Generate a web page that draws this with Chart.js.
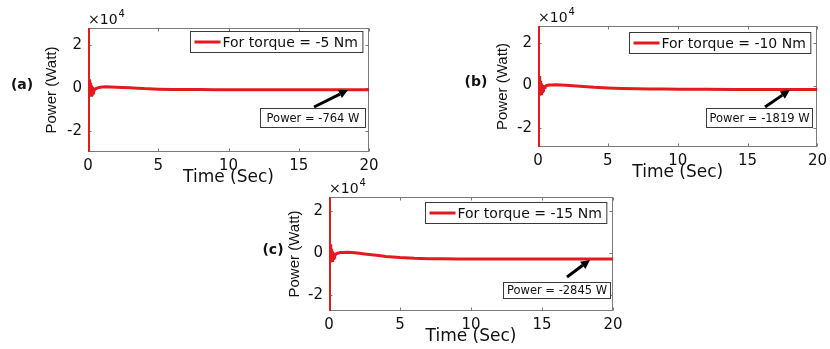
<!DOCTYPE html>
<html><head><meta charset="utf-8">
<script src="https://cdn.jsdelivr.net/npm/chart.js@4.4.1/dist/chart.umd.min.js"></script>
<style>
html,body{margin:0;padding:0;background:#fff;}
body{width:830px;height:349px;position:relative;overflow:hidden;}
canvas{position:absolute;}
</style></head><body>
<canvas id="cA" width="400" height="192" style="left:0;top:0;width:400px;height:192px"></canvas>
<canvas id="cB" width="392" height="192" style="left:440px;top:0;width:392px;height:192px"></canvas>
<canvas id="cC" width="400" height="179" style="left:230px;top:170px;width:400px;height:179px"></canvas>
<script>
// ---------- data ----------
const timeSec = [0, 0.01, 0.02, 0.03, 0.04, 0.05, 0.06, 0.08, 0.10, 0.12, 0.14, 0.16, 0.18, 0.20, 0.22, 0.24, 0.26, 0.28, 0.30, 0.33, 0.36, 0.40, 0.45, 0.50, 0.60, 0.70, 0.80, 1.0, 1.3, 1.6, 2.0, 2.5, 3.0, 3.5, 4.0, 5.0, 6.0, 7.0, 8.0, 9.0, 10.0, 12.0, 14.0, 16.0, 18.0, 20.0];
const powerA = [0, 27700, -29500, 15000, -12000, 5000, -4000, 4000, -4000, 3200, -3800, 2400, -3600, 1700, -3300, 1200, -3000, 800, -2700, 400, -2200, -1700, -1000, -500, -200, 100, 300, 500, 550, 500, 400, 250, 100, -50, -250, -500, -620, -690, -720, -740, -750, -758, -762, -764, -764, -764];
const powerB = [0, 27900, -28800, 16000, -14000, 6500, -5000, 4500, -4800, 3200, -4500, 2200, -4200, 1400, -3800, 900, -3300, 500, -2800, 200, -2200, -1500, -900, -500, -100, 100, 200, 300, 350, 300, 150, -100, -350, -600, -850, -1150, -1350, -1500, -1600, -1680, -1730, -1780, -1800, -1812, -1818, -1819];
const powerC = [0, 26700, -27600, 15000, -13000, 6000, -5000, 4200, -4500, 3000, -4300, 2000, -4000, 1200, -3600, 800, -3100, 400, -2600, 100, -2000, -1400, -800, -400, -100, 100, 250, 300, 350, 250, 0, -400, -800, -1200, -1600, -2150, -2500, -2680, -2760, -2800, -2820, -2835, -2840, -2843, -2845, -2845];
const xTickValues = [0, 5, 10, 15, 20];
const yTickValues = [-20000, 0, 20000];
const panelLabels = ['(a)', '(b)', '(c)'];
const torqueLabels = ['For torque = -5 Nm', 'For torque = -10 Nm', 'For torque = -15 Nm'];
const powerNotes = ['Power = -764 W', 'Power = -1819 W', 'Power = -2845 W'];
const yLimits = [[-29500, 27700], [-28800, 27900], [-27600, 26700]];

// ---------- layout / annotation config ----------
const panels = [
  {id:'cA', series:powerA, pad:{left:43, top:28, right:31, bottom:4}, yWidth:45, labelDx:-66,
   legendTop:3, arrow:[16.09, -8740, 18.5, -900], box:[12.24, -9200, 19.72, -17970]},
  {id:'cB', series:powerB, pad:{left:54, top:26, right:11, bottom:9}, yWidth:44, labelDx:-62,
   legendTop:6, arrow:[16.25, -10070, 18.02, -2110], box:[12.01, -10540, 19.58, -19450]},
  {id:'cC', series:powerC, pad:{left:56, top:27, right:17, bottom:2}, yWidth:43, labelDx:-56,
   legendTop:5, arrow:[16.76, -11380, 18.38, -3290], box:[12.25, -13760, 19.79, -21380]}
];

const RED = '#e31b1f';
const AXIS = '#7a7a7a';

const frame = {
  id: 'frame',
  beforeDatasetsDraw(chart) {
    const {ctx, chartArea: ca, scales: {x, y}} = chart;
    ctx.save();
    ctx.strokeStyle = AXIS; ctx.lineWidth = 1;
    const L = Math.round(ca.left) + 0.5, T = Math.round(ca.top) + 0.5;
    const R = Math.round(ca.right) - 0.5, B = Math.round(ca.bottom) - 0.5;
    ctx.strokeRect(L, T, R - L, B - T);
    const tl = 3;
    ctx.beginPath();
    xTickValues.forEach(v => {
      const px = Math.round(x.getPixelForValue(v)) + 0.5;
      ctx.moveTo(px, B); ctx.lineTo(px, B - tl);
      ctx.moveTo(px, T); ctx.lineTo(px, T + tl);
    });
    yTickValues.forEach(v => {
      const py = Math.round(y.getPixelForValue(v)) + 0.5;
      ctx.moveTo(L, py); ctx.lineTo(L + tl, py);
      ctx.moveTo(R, py); ctx.lineTo(R - tl, py);
    });
    ctx.stroke();
    ctx.restore();
  },
  afterDatasetsDraw(chart, args, o) {
    const {ctx, chartArea: ca, scales: {x, y}} = chart;
    ctx.save();
    // exponent label
    ctx.fillStyle = '#111';
    ctx.textBaseline = 'alphabetic'; ctx.textAlign = 'left';
    ctx.font = '14px "DejaVu Sans"';
    const baseY = ca.top - 4;
    ctx.fillText('\u00d710', ca.left, baseY);
    const w = ctx.measureText('\u00d710').width;
    ctx.font = '10px "DejaVu Sans"';
    ctx.fillText('4', ca.left + w + 1, baseY - 7);
    // panel label
    ctx.font = 'bold 14px "DejaVu Sans"';
    ctx.textAlign = 'center'; ctx.textBaseline = 'middle';
    ctx.fillText(o.label, ca.left + o.labelDx, y.getPixelForValue(0) - 3);
    // legend
    ctx.font = '14px "DejaVu Sans"';
    const tw = ctx.measureText(o.legend).width;
    const lw = 4 + 26 + 2 + tw + 5, lh = 21;
    const lx = Math.round(ca.right - 7 - lw) + 0.5, ly = Math.round(ca.top + o.legendTop) + 0.5;
    ctx.fillStyle = '#fff'; ctx.fillRect(lx, ly, lw, lh);
    ctx.strokeStyle = '#3a3a3a'; ctx.lineWidth = 1; ctx.strokeRect(lx, ly, lw, lh);
    ctx.strokeStyle = RED; ctx.lineWidth = 3;
    ctx.beginPath(); ctx.moveTo(lx + 4, ly + lh / 2); ctx.lineTo(lx + 30, ly + lh / 2); ctx.stroke();
    ctx.fillStyle = '#111'; ctx.textAlign = 'left'; ctx.textBaseline = 'middle';
    ctx.fillText(o.legend, lx + 32, ly + lh / 2 + 1);
    // power note box
    const [bx1, by1, bx2, by2] = o.box;
    const X1 = Math.round(x.getPixelForValue(bx1)) + 0.5, X2 = Math.round(x.getPixelForValue(bx2)) + 0.5;
    const Y1 = Math.round(y.getPixelForValue(by1)) + 0.5, Y2 = Math.round(y.getPixelForValue(by2)) + 0.5;
    ctx.fillStyle = '#fff'; ctx.fillRect(X1, Y1, X2 - X1, Y2 - Y1);
    ctx.strokeStyle = '#3a3a3a'; ctx.lineWidth = 1; ctx.strokeRect(X1, Y1, X2 - X1, Y2 - Y1);
    ctx.fillStyle = '#111'; ctx.font = '11.5px "DejaVu Sans"'; ctx.textAlign = 'center';
    ctx.fillText(o.note, (X1 + X2) / 2, (Y1 + Y2) / 2 + 1);
    // arrow
    const [ax1, ay1, ax2, ay2] = o.arrow;
    const P1 = [x.getPixelForValue(ax1), y.getPixelForValue(ay1)];
    const P2 = [x.getPixelForValue(ax2), y.getPixelForValue(ay2)];
    const ang = Math.atan2(P2[1] - P1[1], P2[0] - P1[0]);
    const hl = 9, hw = 4.5;
    const bxp = P2[0] - hl * Math.cos(ang), byp = P2[1] - hl * Math.sin(ang);
    ctx.strokeStyle = '#000'; ctx.lineWidth = 3; ctx.lineCap = 'butt';
    ctx.beginPath(); ctx.moveTo(P1[0], P1[1]); ctx.lineTo(bxp, byp); ctx.stroke();
    ctx.fillStyle = '#000';
    ctx.beginPath();
    ctx.moveTo(P2[0], P2[1]);
    ctx.lineTo(bxp + hw * Math.sin(ang), byp - hw * Math.cos(ang));
    ctx.lineTo(bxp - hw * Math.sin(ang), byp + hw * Math.cos(ang));
    ctx.closePath(); ctx.fill();
    ctx.restore();
  }
};

panels.forEach((p, i) => {
  new Chart(document.getElementById(p.id), {
    type: 'line',
    data: {
      datasets: [{
        data: timeSec.map((t, k) => ({x: t, y: p.series[k]})),
        borderColor: RED, borderWidth: 3, pointRadius: 0, tension: 0, fill: false
      }]
    },
    options: {
      responsive: false, animation: false, events: [],
      layout: {padding: p.pad},
      plugins: {
        legend: {display: false}, tooltip: {enabled: false},
        frame: {label: panelLabels[i], labelDx: p.labelDx, legend: torqueLabels[i], legendTop: p.legendTop,
                note: powerNotes[i], box: p.box, arrow: p.arrow}
      },
      scales: {
        x: {
          type: 'linear', min: 0, max: 20,
          afterBuildTicks: s => { s.ticks = xTickValues.map(v => ({value: v})); },
          afterFit: s => { s.height = 36; },
          grid: {display: false, drawTicks: false}, border: {display: false},
          ticks: {padding: 5, color: '#111', font: {family: 'DejaVu Sans', size: 15}, maxRotation: 0, autoSkip: false},
          title: {display: true, text: 'Time (Sec)', color: '#111', font: {family: 'DejaVu Sans', size: 17}, padding: 0}
        },
        y: {
          type: 'linear', min: yLimits[i][0], max: yLimits[i][1],
          afterBuildTicks: s => { s.ticks = yTickValues.map(v => ({value: v})); },
          afterFit: s => { s.width = p.yWidth; },
          grid: {display: false, drawTicks: false}, border: {display: false},
          ticks: {padding: 6, color: '#111', font: {family: 'DejaVu Sans', size: 15}, callback: v => String(v / 10000)},
          title: {display: true, text: 'Power (Watt)', color: '#111', font: {family: 'Liberation Sans', size: 15}, padding: 0}
        }
      }
    },
    plugins: [frame]
  });
});
</script>
</body></html>
